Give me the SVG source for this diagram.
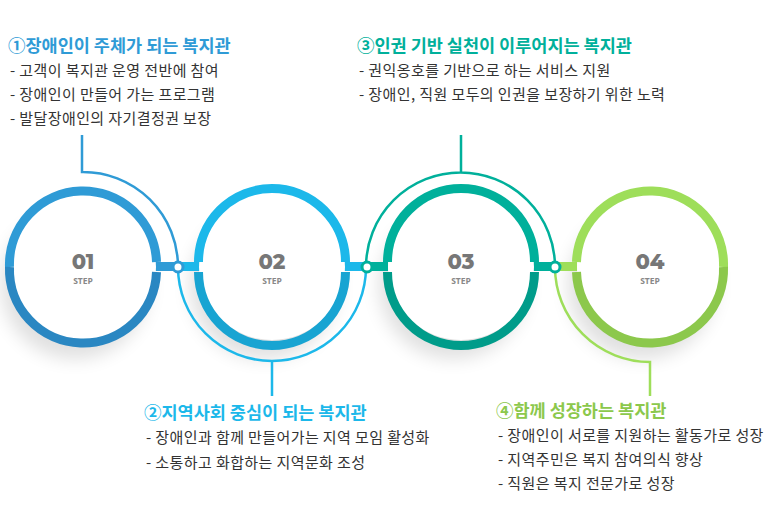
<svg xmlns="http://www.w3.org/2000/svg" width="775" height="520" viewBox="0 0 775 520">
<defs>
<filter id="sh" x="-50%" y="-50%" width="200%" height="200%"><feGaussianBlur stdDeviation="9"/></filter>
<style>
.t{font-family:"Noto Sans CJK KR","Noto Sans",sans-serif;font-weight:700;font-size:17.5px}
.b{font-family:"Noto Sans CJK KR","Noto Sans",sans-serif;font-size:15px;letter-spacing:0.4px;fill:#333}
.n{font-family:Montserrat,"Open Sans","DejaVu Sans",sans-serif;font-weight:800;font-size:21px;fill:#777;text-anchor:middle}
.s{font-family:"Open Sans","DejaVu Sans",sans-serif;font-weight:700;font-size:8.5px;fill:#888;text-anchor:middle}
.ln{fill:none;stroke-width:2.5}
.dot{fill:#fff;stroke-width:3}
</style>
</defs>
<g id="shadows" fill="#000" opacity="0.12" filter="url(#sh)">
<circle cx="75" cy="285" r="74"/><circle cx="264" cy="285" r="74"/><circle cx="453" cy="285" r="74"/><circle cx="642" cy="285" r="74"/>
</g>
<g id="connectors">
<path class="ln" stroke="#2f9bd6" d="M82 135 V172 A95 95 0 0 1 178 267"/>
<path class="ln" stroke="#1cb8ea" d="M178 267 A94 94 0 0 0 366 267 M272 361 V396"/>
<path class="ln" stroke="#00b09b" d="M366 267 A94 94 0 0 1 555 267 M461 173 V135"/>
<path class="ln" stroke="#9ede5a" d="M555 267 A95 95 0 0 0 650 362 V396"/>
<rect x="150" y="262" width="28" height="9" fill="#2f9bd6"/>
<rect x="178" y="262" width="22" height="9" fill="#1cb8ea"/>
<rect x="339" y="262" width="27" height="9" fill="#1cb8ea"/>
<rect x="366" y="262" width="22" height="9" fill="#00b09b"/>
<rect x="528" y="262" width="27" height="9" fill="#00b09b"/>
<rect x="555" y="262" width="22" height="9" fill="#9ede5a"/>
<circle class="dot" cx="178" cy="267" r="5" stroke="#2f9bd6"/>
<circle class="dot" cx="367" cy="267" r="5" stroke="#00b09b"/>
<circle class="dot" cx="555" cy="267" r="5" stroke="#00b09b"/>
</g>
<g id="step01">
<circle cx="83" cy="267" r="73" fill="#fff"/>
<path d="M156.5 262 A73.5 73.5 0 1 0 9.5 267" fill="none" stroke="#2f9bd6" stroke-width="9"/>
<path d="M9.5 267 A73.5 73.5 0 0 0 156.5 272" fill="none" stroke="#2a87c2" stroke-width="9"/>
<text class="n" x="83" y="269">01</text><text class="s" x="83" y="284">STEP</text>
</g>
<g id="step02">
<circle cx="272" cy="267" r="73" fill="#fff"/>
<path d="M345.5 262 A73.5 73.5 0 1 0 198.5 262" fill="none" stroke="#1cb8ea" stroke-width="9"/>
<path d="M198.5 272 A73.5 73.5 0 0 0 345.5 272" fill="none" stroke="#18a4d2" stroke-width="9"/>
<text class="n" x="272" y="269">02</text><text class="s" x="272" y="284">STEP</text>
</g>
<g id="step03">
<circle cx="461" cy="267" r="73" fill="#fff"/>
<path d="M534.5 262 A73.5 73.5 0 1 0 387.5 262" fill="none" stroke="#00b09b" stroke-width="9"/>
<path d="M387.5 272 A73.5 73.5 0 0 0 534.5 272" fill="none" stroke="#009c8a" stroke-width="9"/>
<text class="n" x="461" y="269">03</text><text class="s" x="461" y="284">STEP</text>
</g>
<g id="step04">
<circle cx="650" cy="267" r="73" fill="#fff"/>
<path d="M723.5 267 A73.5 73.5 0 1 0 576.5 262" fill="none" stroke="#9ede5a" stroke-width="9"/>
<path d="M576.5 272 A73.5 73.5 0 0 0 723.5 267" fill="none" stroke="#8cc84c" stroke-width="9"/>
<text class="n" x="650" y="269">04</text><text class="s" x="650" y="284">STEP</text>
</g>
<g id="text1">
<text class="t" x="8" y="52" fill="#2f9bd6">①장애인이 주체가 되는 복지관</text>
<text class="b" x="10" y="76">- 고객이 복지관 운영 전반에 참여</text>
<text class="b" x="10" y="100">- 장애인이 만들어 가는 프로그램</text>
<text class="b" x="10" y="124">- 발달장애인의 자기결정권 보장</text>
</g>
<g id="text3">
<text class="t" x="357" y="52" fill="#00b09b">③인권 기반 실천이 이루어지는 복지관</text>
<text class="b" x="359" y="76">- 권익옹호를 기반으로 하는 서비스 지원</text>
<text class="b" x="359" y="100">- 장애인, 직원 모두의 인권을 보장하기 위한 노력</text>
</g>
<g id="text2">
<text class="t" x="144" y="419" fill="#1cb8ea">②지역사회 중심이 되는 복지관</text>
<text class="b" x="146" y="443">- 장애인과 함께 만들어가는 지역 모임 활성화</text>
<text class="b" x="146" y="468">- 소통하고 화합하는 지역문화 조성</text>
</g>
<g id="text4">
<text class="t" x="496" y="417" fill="#8cc84c">④함께 성장하는 복지관</text>
<text class="b" x="498" y="441">- 장애인이 서로를 지원하는 활동가로 성장</text>
<text class="b" x="498" y="465">- 지역주민은 복지 참여의식 향상</text>
<text class="b" x="498" y="489">- 직원은 복지 전문가로 성장</text>
</g>
</svg>
